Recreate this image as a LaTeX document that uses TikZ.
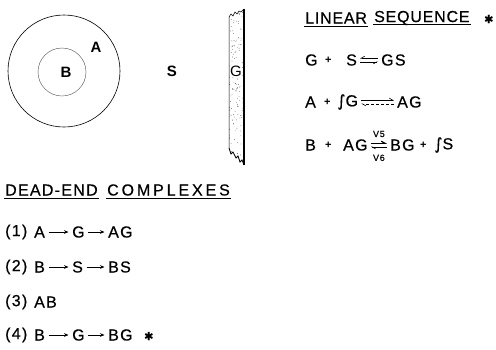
\documentclass[tikz,border=0pt]{standalone}
\usepackage{fontspec}
\setmainfont{Liberation Sans}
\newfontfamily\dvfont[FakeBold=0.5]{DejaVu Sans}
\newfontfamily\lettering[LetterSpace=8,FakeBold=0.5]{Liberation Sans}
\usepackage{tikz}
\usetikzlibrary{arrows.meta}

\tikzset{
  lt/.style={inner sep=1pt, anchor=west, font=\fontsize{16}{16}\selectfont\lettering},
  lbl/.style={inner sep=1pt, font=\fontsize{15}{15}\selectfont\bfseries},
  plus/.style={inner sep=1pt, anchor=west, font=\fontsize{11}{11}\selectfont\bfseries},
  rate/.style={inner sep=0.5pt, font=\fontsize{9}{9}\selectfont\lettering},
  uline/.style={line width=0.7pt},
  fwd/.style={line width=0.6pt, -{Stealth[length=4.5pt,width=3.6pt]}, shorten <=2.5pt, shorten >=2.5pt},
  hup/.style={line width=0.6pt, -{Straight Barb[left,length=3.5pt,width=4pt]}, shorten <=2pt, shorten >=2pt},
  hdn/.style={line width=0.6pt, -{Straight Barb[right,length=3.5pt,width=4pt]}, shorten <=2pt, shorten >=2pt},
}

\begin{document}
\begin{tikzpicture}[x=1pt,y=-1pt]
                \useasboundingbox (0,0) rectangle (496,349);

                % Particle
                \draw[line width=0.6pt] (64,71) circle (56pt);
                \draw[line width=0.4pt, black!70] (62,72) circle (24pt);
                \node[lbl] (pa) at (96,47) {A};
                \node[lbl] (pb) at (66,72) {B};
                \node[lbl] (ps) at (172,71) {S};

                % Strip
                \begin{scope}
                  \clip (229,17) -- (231,14) -- (233,16) -- (235,12) -- (237,14) -- (239,11) -- (241,12) -- (244,9)
                        -- (244,165) -- (242,160) -- (240,162) -- (238,156) -- (236,158) -- (233,152) -- (231,154) -- (229,148) -- cycle;
                  \pgfmathsetseed{11}
                  \foreach \i in {1,...,150} \fill[black!80] ({229+15*rnd},{10+155*rnd}) circle (0.35pt);
                \end{scope}
                \draw[line width=0.5pt] (229,148) -- (229,17) -- (231,14) -- (233,16) -- (235,12) -- (237,14) -- (239,11) -- (241,12) -- (244,9);
                \draw[line width=1.1pt] (244,9) -- (244,165);
                \draw[line width=0.8pt] (244,165) -- (242,160) -- (240,162) -- (238,156) -- (236,158) -- (233,152) -- (231,154) -- (229,148);
                \node[lbl, font=\fontsize{15}{15}\selectfont, fill=white, inner sep=0.3pt] (pg) at (236,71) {G};

                % Linear sequence
                \node[lt, font=\fontsize{16}{16}\selectfont\lettering\addfontfeature{LetterSpace=5}] (ls1) at (304,18) {LINEAR};
                \node[lt, font=\fontsize{16}{16}\selectfont\lettering\addfontfeature{LetterSpace=5}] (ls2) at (373,18) {SEQUENCE};
                \node[lt, font=\fontsize{11}{11}\selectfont\dvfont] (ls3) at (483,19) {✱};
                \draw[uline] ([yshift=-2.5pt]ls1.base west) -- ([yshift=-2.5pt]ls1.base east);
                \draw[uline] ([yshift=-2.5pt]ls2.base west) -- ([yshift=-2.5pt]ls2.base east);

                \node[lt] (s1g) at (304,60) {G};
                \node[plus] (s1p) at (324,60) {+};
                \node[lt] (s1s) at (345,60) {S};
                \node[lt] (s1gs) at (380,60) {GS};
                \draw[hdn] ([yshift=1.8pt]s1gs.west) -- ([yshift=1.8pt]s1s.east);
                \draw[hdn] ([yshift=-1.8pt]s1s.east) -- ([yshift=-1.8pt]s1gs.west);

                \node[lt] (s2a) at (304,102) {A};
                \node[plus] (s2p) at (323,102) {+};
                \node[lt] (s2g) at (336,102) {{\dvfont ∫}G};
                \node[lt] (s2ag) at (396,102) {AG};
                \draw[hup] ([yshift=1.8pt]s2g.east) -- ([yshift=1.8pt]s2ag.west);
                \draw[hup, densely dashed] ([yshift=-1.8pt]s2ag.west) -- ([yshift=-1.8pt]s2g.east);

                \node[lt] (s3b) at (304,145) {B};
                \node[plus] (s3p) at (324,145) {+};
                \node[lt] (s3ag) at (342,145) {AG};
                \node[lt] (s3bg) at (389,145) {BG};
                \node[plus] (s3q) at (419,145) {+};
                \node[lt] (s3s) at (433,145) {{\dvfont ∫}S};
                \draw[hup, line width=1.2pt] ([yshift=1.8pt]s3ag.east) -- ([yshift=1.8pt]s3bg.west)
                  node[rate, midway, above=5pt] (v5) {V5};
                \draw[hup] ([yshift=-1.8pt]s3bg.west) -- ([yshift=-1.8pt]s3ag.east)
                  node[rate, midway, below=7pt] (v6) {V6};

                % Dead-end complexes
                \node[lt, font=\fontsize{16}{16}\selectfont\lettering\addfontfeature{LetterSpace=8}] (de1) at (4,190) {DEAD-END};
                \node[lt, font=\fontsize{16}{16}\selectfont\lettering\addfontfeature{LetterSpace=18}] (de2) at (106,190) {COMPLEXES};
                \draw[uline] ([yshift=-2.5pt]de1.base west) -- ([yshift=-2.5pt]de1.base east);
                \draw[uline] ([yshift=-2.5pt]de2.base west) -- ([yshift=-2.5pt]de2.base east);

                \foreach \n/\y/\p/\q/\r in {1/232/A/G/AG, 2/267/B/S/BS, 4/335/B/G/BG} {
                  \node[lt] (n\n) at (4,\y) {(\n)};
                  \node[lt] (a\n) at (33,\y) {\p};
                  \node[lt] (b\n) at (71,\y) {\q};
                  \node[lt] (c\n) at (107,\y) {\r};
                  \draw[fwd] (a\n.east) -- (b\n.west);
                  \draw[fwd] (b\n.east) -- (c\n.west);
                }
                \node[lt] (n3) at (4,302) {(3)};
                \node[lt] (a3) at (33,302) {AB};
                \node[lt, font=\fontsize{11}{11}\selectfont\dvfont] (d4) at (143,336) {✱};
            \end{tikzpicture}
\end{document}
